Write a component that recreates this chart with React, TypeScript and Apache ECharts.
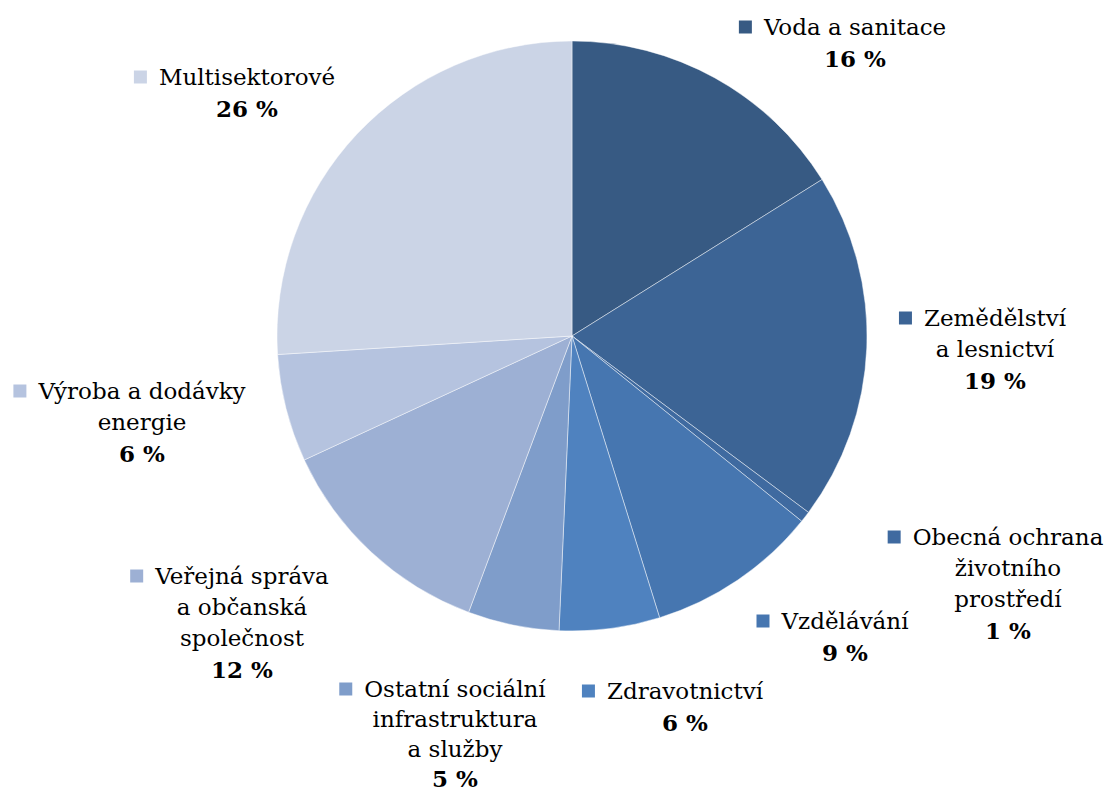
import React, { useEffect, useRef } from "react";
import * as echarts from "echarts";

const categories = [
  "Voda a sanitace",
  "Zemědělství\na lesnictví",
  "Obecná ochrana\nživotního\nprostředí",
  "Vzdělávání",
  "Zdravotnictví",
  "Ostatní sociální\ninfrastruktura\na služby",
  "Veřejná správa\na občanská\nspolečnost",
  "Výroba a dodávky\nenergie",
  "Multisektorové",
];
const shares = [16.1, 19.1, 0.6, 9.4, 5.5, 5.0, 12.4, 5.9, 26.0];
const colors = [
  "#375A83",
  "#3C6495",
  "#3F6AA0",
  "#4676B0",
  "#4F82BF",
  "#7F9DCA",
  "#9DB0D4",
  "#B5C3DF",
  "#CBD4E6",
];
// label anchor: [center x, top y]
const labelAnchors: [number, number][] = [
  [855, 11.5],
  [995, 302.5],
  [1008, 521.5],
  [845, 605.5],
  [685, 675.5],
  [455, 674],
  [242, 560.5],
  [142, 375.5],
  [247, 61.5],
];
// line heights [text lines, percentage line]
const lineHeights: [number, number][] = [
  [31, 31],
  [31, 31],
  [31, 31],
  [31, 31],
  [31, 31],
  [30, 28],
  [31, 31],
  [31, 31],
  [31, 31],
];

const FONT = "'DejaVu Serif', 'Liberation Serif', serif";

export default function App() {
  const ref = useRef<HTMLDivElement>(null);
  useEffect(() => {
    if (!ref.current) return;
    const chart = echarts.init(ref.current, null, { renderer: "svg" });
    const data = categories.map((name, i) => {
      const lines = name.split("\n");
      const first = `{sq${i}|}{g|}{t|${lines[0]}}{sp|}`;
      const rest = lines.slice(1).map((l) => `{t|${l}}`);
      const pct = `{b|${Math.round(shares[i])} %}`;
      const [lt, lb] = lineHeights[i];
      const rich: any = {
        t: { fontFamily: FONT, fontSize: 23, lineHeight: lt, color: "#000" },
        b: { fontFamily: FONT, fontSize: 23, lineHeight: lb, fontWeight: "bold", color: "#000" },
        g: { width: 12, height: 13 },
        sp: { width: 25, height: 13 },
      };
      rich["sq" + i] = { width: 13, height: 13, backgroundColor: colors[i], verticalAlign: "middle" };
      return {
        name,
        value: shares[i],
        itemStyle: { color: colors[i] },
        label: {
          formatter: [first, ...rest, pct].join("\n"),
          rich,
        },
      };
    });
    chart.setOption({
      animation: false,
      backgroundColor: "#ffffff",
      series: [
        {
          type: "pie",
          center: [572, 336],
          radius: 295,
          startAngle: 90,
          clockwise: true,
          avoidLabelOverlap: false,
          itemStyle: { borderColor: "rgba(255,255,255,0.45)", borderWidth: 1 },
          label: {
            show: true,
            position: "outside",
            align: "center",
            fontFamily: FONT,
          },
          labelLine: { show: false },
          labelLayout: (params: any) => {
            const a = labelAnchors[params.dataIndex];
            return { x: a[0], y: a[1], align: "center", verticalAlign: "top" };
          },
          emphasis: { disabled: true },
          data,
        },
      ],
    });
    return () => chart.dispose();
  }, []);
  return (
    <div
      ref={ref}
      style={{ position: "fixed", left: 0, top: 0, width: 1107, height: 793 }}
    />
  );
}
